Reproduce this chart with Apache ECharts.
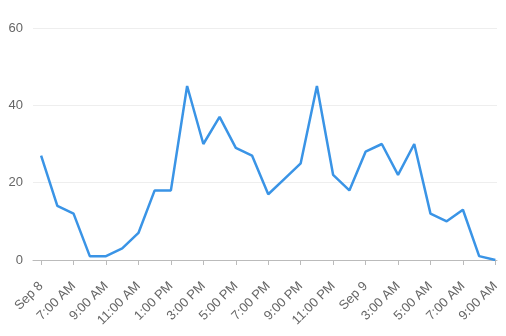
<!DOCTYPE html>
<html><head><meta charset="utf-8">
<script src="https://cdn.jsdelivr.net/npm/echarts@6/dist/echarts.min.js"></script>
<style>html,body{margin:0;padding:0;background:#fff}#c{width:506px;height:336px}</style>
</head><body><div id="c"></div>
<script>
const tickLabels = ["Sep 8","7:00 AM","9:00 AM","11:00 AM","1:00 PM","3:00 PM","5:00 PM","7:00 PM","9:00 PM","11:00 PM","Sep 9","3:00 AM","5:00 AM","7:00 AM","9:00 AM"];
const values = [27,14,12,1,1,3,7,18,18,45,30,37,29,27,17,21,25,45,22,18,28,30,22,30,12,10,13,1,0];
const yTicks = [0,20,40,60];

const data = values.map((v,i)=>[i,v]);
const tickPos = tickLabels.map((_,i)=>i*2);

const chart = echarts.init(document.getElementById('c'));
chart.setOption({
  animation:false,
  grid:{left:33,right:9,top:28,bottom:76,containLabel:false},
  xAxis:{
    type:'value', min:-0.5, max:28.1,
    axisLine:{show:true,lineStyle:{color:'#bbb'}},
    axisTick:{show:true,customValues:tickPos,length:5,lineStyle:{color:'#bbb'}},
    splitLine:{show:false},
    axisLabel:{customValues:tickPos,rotate:45,margin:24,color:'#666',fontSize:13,fontFamily:'Liberation Sans, Arial, sans-serif',
      formatter:(v)=>tickLabels[Math.round(v/2)]}
  },
  yAxis:{
    type:'value', min:0, max:60, interval:20,
    axisLine:{show:false}, axisTick:{show:false},
    splitLine:{lineStyle:{color:'#eee'}},
    axisLabel:{color:'#666',fontSize:13,margin:10,fontFamily:'Liberation Sans, Arial, sans-serif'}
  },
  series:[{type:'line',data:data,showSymbol:false,symbol:'none',lineStyle:{color:'#3a94e6',width:2.5},itemStyle:{color:'#3a94e6'}}]
});
</script></body></html>
